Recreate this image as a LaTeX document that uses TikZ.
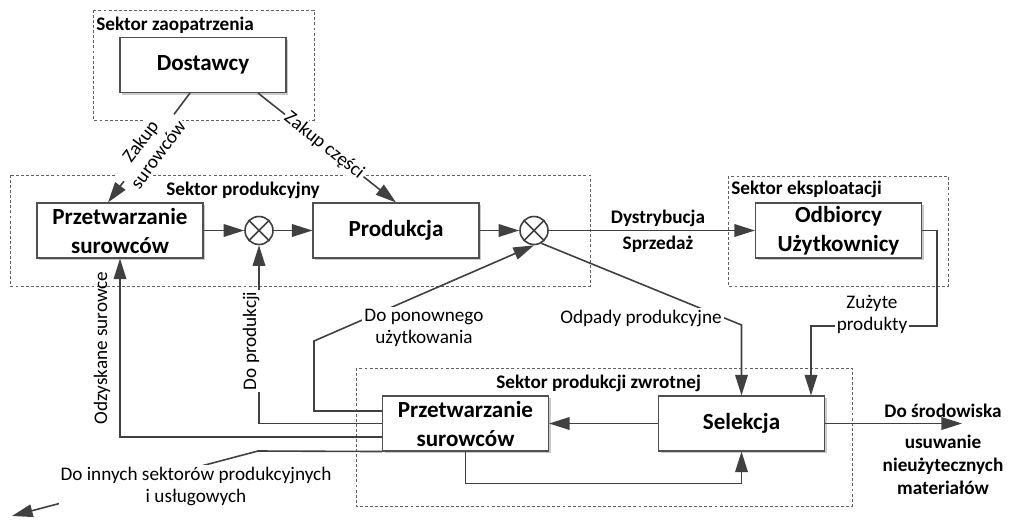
\documentclass[tikz,border=0pt]{standalone}
\usepackage{fontspec}
\setmainfont{Carlito}
\usetikzlibrary{arrows.meta,shadows,calc}

\definecolor{linegray}{HTML}{404040}
\definecolor{boxgray}{HTML}{505050}
\definecolor{sectgray}{HTML}{606060}

\newcommand\boxfont{\fontsize{17.3pt}{21.75pt}\selectfont\bfseries}
\newcommand\secfont{\fontsize{14.4pt}{17.25pt}\selectfont\bfseries}
\newcommand\lblfont{\fontsize{14.4pt}{16.5pt}\selectfont}

\begin{document}
\begin{tikzpicture}[x=0.75pt,y=-0.75pt,
  line/.style={draw=linegray,line width=1.2pt},
  arr/.style={line,-{Triangle[length=15.5pt,width=9.5pt]}},
  block/.style={draw=boxgray,line width=0.8pt,fill=white,
    minimum width=124.5pt,minimum height=41.25pt,inner sep=0pt,
    align=center,font=\boxfont,
    drop shadow={shadow xshift=1.5pt,shadow yshift=-1.5pt,opacity=0.35,fill=black!60}},
  sector/.style={draw=sectgray,line width=0.7pt,dash pattern=on 2.2pt off 1.6pt},
  sectlabel/.style={anchor=west,inner sep=0pt,font=\secfont},
  lbl/.style={font=\lblfont,align=center,inner sep=1.5pt},
  wlbl/.style={lbl,fill=white},
  mixer/.style={circle,draw=linegray,line width=1.2pt,fill=white,
    minimum size=21pt,inner sep=0pt}
]
\useasboundingbox (0,0) rectangle (1012,525);

% sector frames
\draw[sector] (93,10) rectangle (314,120);
\draw[sector] (10,175) rectangle (590,286);
\draw[sector] (728,176) rectangle (948,286);
\draw[sector] (356,368) rectangle (852,506);
\node[sectlabel] (sz) at (96,25) {Sektor zaopatrzenia};
\node[sectlabel] (sp) at (166,190) {Sektor produkcyjny};
\node[sectlabel] (se) at (731,189) {Sektor eksploatacji};
\node[sectlabel] (sr) at (496,383) {Sektor produkcji zwrotnej};

% process blocks
\node[block] (dost) at (203,65) {Dostawcy};
\node[block] (p1) at (120,230.5) {Przetwarzanie\\surowców};
\node[block] (prod) at (396,230.5) {Produkcja};
\node[block] (odb) at (838.5,230.5) {Odbiorcy\\Użytkownicy};
\node[block] (p2) at (465.5,423.5) {Przetwarzanie\\surowców};
\node[block] (sel) at (741.5,423.5) {Selekcja};

% summing junctions
\node[mixer] (c1) at (259,230.5) {};
\node[mixer] (c2) at (534,230.5) {};
\draw[line] (c1.north west) -- (c1.south east) (c1.north east) -- (c1.south west);
\draw[line] (c2.north west) -- (c2.south east) (c2.north east) -- (c2.south west);

% bend points
\coordinate (dp) at (314,341);
\coordinate (di) at (258,451);
\coordinate (dt) at (12,516);
\coordinate (ob) at (741.5,325);
\coordinate (zk) at (811,326);
\coordinate (env) at (962,423.5);

% supply
\draw[arr] ([xshift=-9.75pt]dost.south) -- ([xshift=-9pt]p1.north)
  node[wlbl,sloped,pos=0.5] (zs) {Zakup\\surowców};
\draw[arr] ([xshift=41.25pt]dost.south) -- (prod.north)
  node[wlbl,sloped,pos=0.48] (zc) {Zakup części};

% main production line
\draw[arr] (p1.east) -- (c1.west);
\draw[arr] (c1.east) -- (prod.west);
\draw[arr] (prod.east) -- (c2.west);
\draw[arr] (c2.east) -- (odb.west);
\node[lbl,font=\secfont] (dy) at (658,218) {Dystrybucja};
\node[lbl,font=\secfont] (sq) at (658,244) {Sprzedaż};

% returns to selection
\draw[arr] (odb.east) -- ++(15,0) |- (zk) -- (zk |- sel.north);
\node[wlbl] (zp) at (872,314) {Zużyte\\produkty};
\draw[arr] (c2.-60) -- (ob) -- (sel.north);
\node[wlbl] (op) at (641,318) {Odpady produkcyjne};

% reverse production sector
\draw[arr] (sel.west) -- (p2.east);
\draw[arr] (p2.south) -- ++(0,32) -| (sel.south);
\draw[arr] (sel.east) -- (env);
\node[lbl,font=\secfont] (ds) at (943,411) {Do środowiska};
\node[lbl,font=\secfont] (us) at (943,465) {usuwanie\\nieużytecznych\\materiałów};

% recovered flows
\draw[arr] ([yshift=9.4pt]p2.west) -| (dp) -- (c2.south);
\node[wlbl] (pu) at (424,328) {Do ponownego\\użytkowania};
\draw[arr] (p2.west) -| (c1.south);
\node[wlbl,rotate=90] (dpr) at (251,341) {Do produkcji};
\draw[arr] ([yshift=-10pt]p2.west) -| (p1.south);
\node[lbl,rotate=90] (os) at (102,348) {Odzyskane surowce};
\draw[arr] (p2.south west) -- (di) -- (dt);
\node[wlbl] (dis) at (196,486) {Do innych sektorów produkcyjnych\\i usługowych};
\end{tikzpicture}
\end{document}
